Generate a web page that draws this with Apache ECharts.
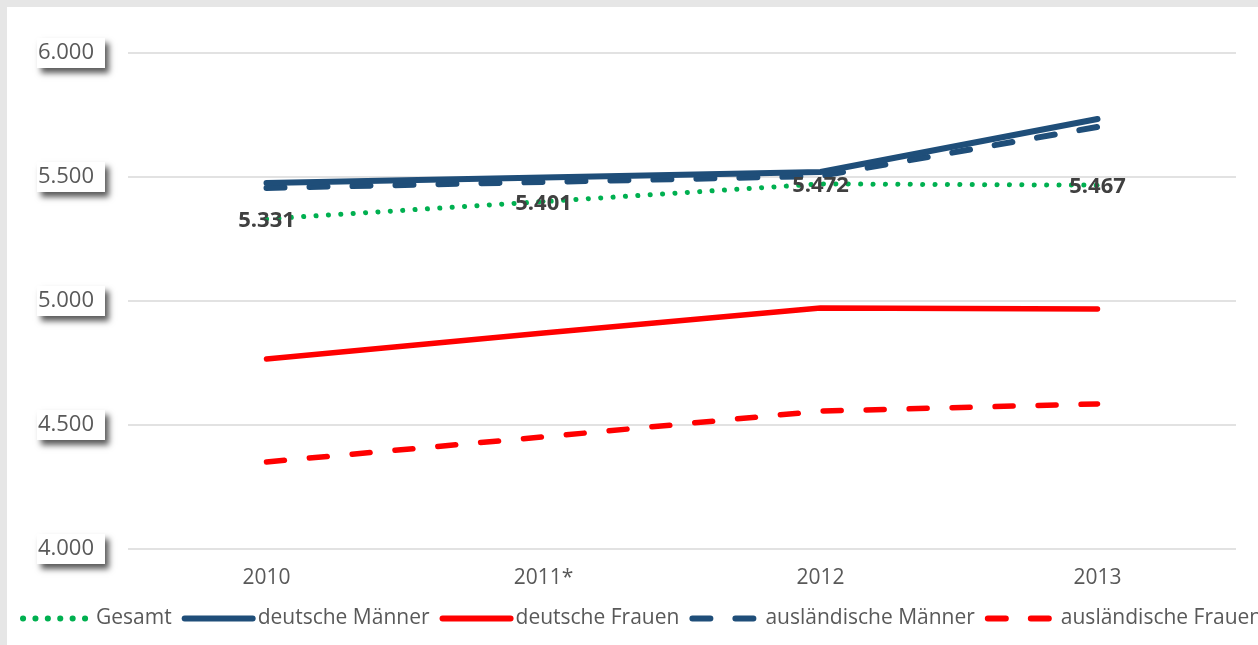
<!DOCTYPE html>
<html>
<head>
<meta charset="utf-8">
<script src="https://cdn.jsdelivr.net/npm/echarts@6/dist/echarts.min.js"></script>
<style>
  html, body { margin: 0; padding: 0; background: #e6e6e6; width: 1258px; height: 645px; overflow: hidden; }
  #chart { position: absolute; left: 7px; top: 7px; width: 1251px; height: 638px; background: #fff; }
</style>
</head>
<body>
<div id="chart"></div>
<script>
const years = ["2010", "2011*", "2012", "2013"];
const gesamt = [5331, 5401, 5472, 5467];
const deutscheMaenner = [5476, 5498, 5520, 5734];
const deutscheFrauen = [4766, 4871, 4972, 4968];
const auslMaenner = [5456, 5480, 5504, 5702];
const auslFrauen = [4351, 4452, 4556, 4585];

const navy = "#1f4e79";
const red = "#ff0000";
const green = "#00b050";
const font = "'Open Sans', 'Noto Sans', sans-serif";

const chart = echarts.init(document.getElementById("chart"));

// 5331 -> "5.331"
const fmt = (v) => {
  const s = String(Math.round(v));
  return s.slice(0, s.length - 3) + "." + s.slice(-3);
};

chart.setOption({
  animation: false,
  backgroundColor: "#fff",
  grid: { left: 121, right: 22, top: 46, bottom: 96 },
  xAxis: {
    type: "category",
    data: years,
    boundaryGap: true,
    axisLine: { show: false },
    axisTick: { show: false },
    axisLabel: { color: "#595959", fontSize: 21, fontFamily: font, margin: 19 },
  },
  yAxis: {
    type: "value",
    min: 4000,
    max: 6000,
    interval: 500,
    axisLine: { show: false },
    axisTick: { show: false },
    splitLine: { lineStyle: { color: "#d9d9d9", width: 1.5 } },
    axisLabel: {
      formatter: fmt,
      color: "#595959",
      fontSize: 22,
      fontFamily: font,
      margin: 23,
      backgroundColor: "#fff",
      padding: [4, 11, 4, 1],
      shadowColor: "rgba(0,0,0,0.65)",
      shadowBlur: 6,
      shadowOffsetX: 4,
      shadowOffsetY: 5,
    },
  },
  legend: {
    left: 13,
    top: 601,
    width: 1300,
    padding: 0,
    itemWidth: 68,
    itemHeight: 14,
    itemGap: 10,
    itemStyle: { opacity: 0 },
    lineStyle: { width: 6, cap: "round" },
    textStyle: { color: "#595959", fontSize: 21, fontFamily: font },
    data: ["Gesamt", "deutsche Männer", "deutsche Frauen", "ausländische Männer", "ausländische Frauen"],
  },
  series: [
    {
      name: "Gesamt",
      type: "line",
      data: gesamt,
      symbol: "circle",
      symbolSize: 4,
      showSymbol: true,
      itemStyle: { color: green },
      lineStyle: { color: green, width: 5, type: [0.1, 12.3], cap: "round" },
      label: {
        show: true,
        position: "inside",
        offset: [0, 2],
        formatter: (p) => fmt(p.value),
        color: "#404040",
        fontSize: 22,
        fontWeight: "bold",
        fontFamily: font,
      },
      z: 5,
    },
    {
      name: "deutsche Männer",
      type: "line",
      data: deutscheMaenner,
      symbol: "none",
      itemStyle: { color: navy },
      lineStyle: { color: navy, width: 6, cap: "round" },
      z: 3,
    },
    {
      name: "deutsche Frauen",
      type: "line",
      data: deutscheFrauen,
      symbol: "none",
      itemStyle: { color: red },
      lineStyle: { color: red, width: 5.5, cap: "round" },
      z: 3,
    },
    {
      name: "ausländische Männer",
      type: "line",
      data: auslMaenner,
      symbol: "none",
      itemStyle: { color: navy },
      lineStyle: { color: navy, width: 6, type: [18, 25], cap: "round" },
      z: 2,
    },
    {
      name: "ausländische Frauen",
      type: "line",
      data: auslFrauen,
      symbol: "none",
      itemStyle: { color: red },
      lineStyle: { color: red, width: 5.5, type: [18, 25], cap: "round" },
      z: 2,
    },
  ],
});
</script>
</body>
</html>
